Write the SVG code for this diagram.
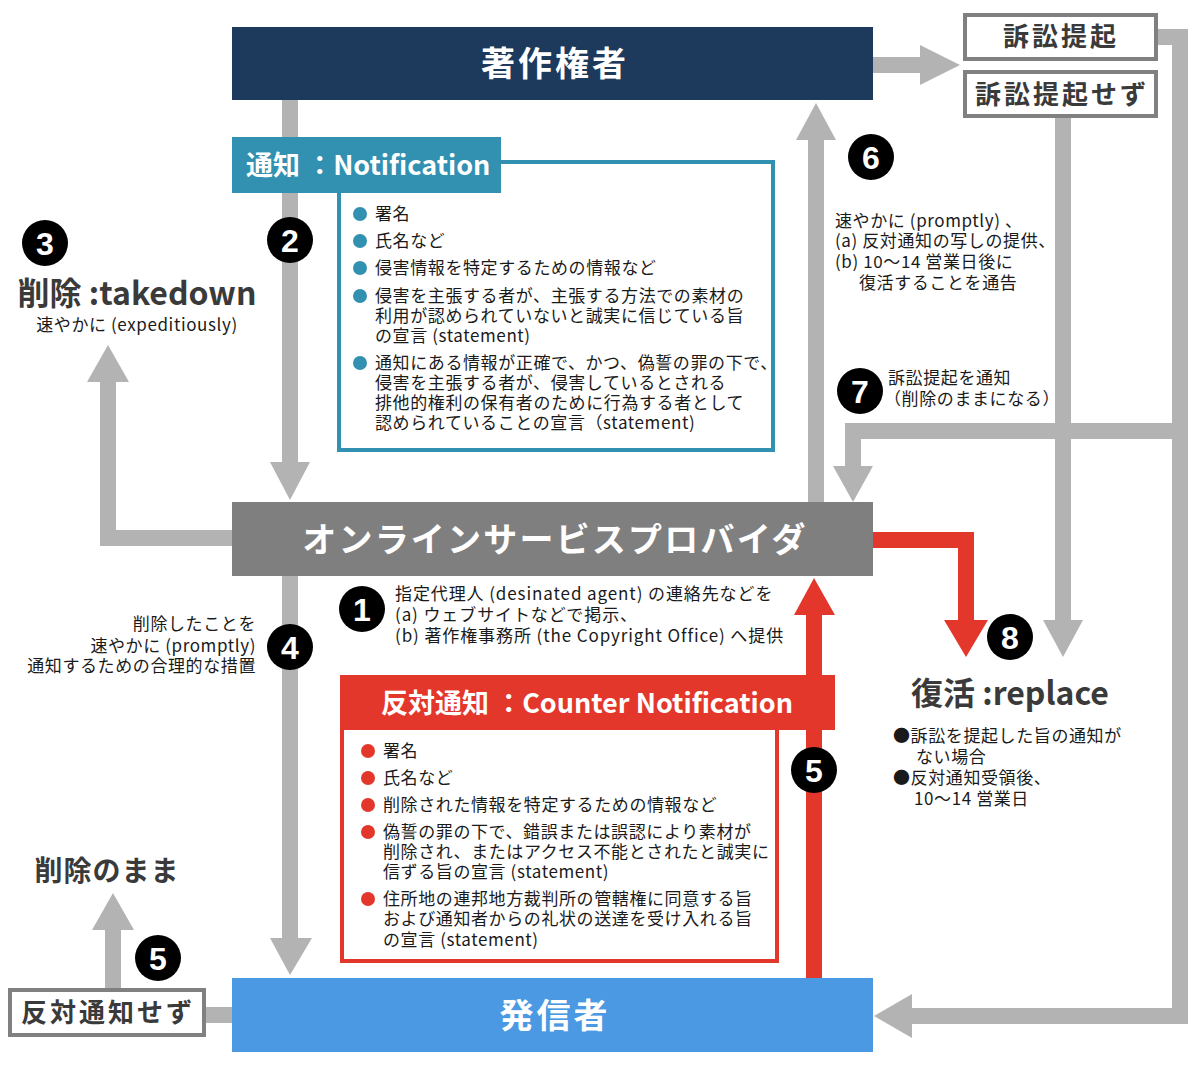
<svg xmlns="http://www.w3.org/2000/svg" width="1200" height="1067" viewBox="0 0 1200 1067">
<style>
text{font-family:"Noto Sans CJK JP","Noto Sans",sans-serif;}
.body{font-size:17px;fill:#1a1a1a;letter-spacing:0.6px;}
.head{font-weight:bold;fill:#fff;font-size:34px;letter-spacing:3px;text-anchor:middle;}
.lbl{font-weight:bold;fill:#3a3a3a;text-anchor:middle;}
.ga{fill:none;stroke:#b3b3b3;stroke-width:16;stroke-linejoin:miter;}
.gh{fill:#b3b3b3;}
.ra{fill:none;stroke:#e4372b;stroke-width:16;stroke-linejoin:miter;}
.rh{fill:#e4372b;}
.num{font-family:"Liberation Sans",sans-serif;font-weight:bold;font-size:32px;fill:#fff;text-anchor:middle;}
.gbox{fill:#fff;stroke:#808080;stroke-width:4;}
</style>
<rect width="1200" height="1067" fill="#fff"/>
<g id="connectors">
  <polyline class="ga" points="873,65 922,65"/>
  <polygon class="gh" points="920,45 960,65 920,85"/>
  <polyline class="ga" points="1157,37 1180,37 1180,1016 910,1016"/>
  <polygon class="gh" points="912,994 874,1016 912,1038"/>
  <polyline class="ga" points="1063,117 1063,622"/>
  <polygon class="gh" points="1043,620 1083,620 1063,657"/>
  <polyline class="ga" points="1180,431 853,431 853,468"/>
  <polygon class="gh" points="833,466 873,466 853,502"/>
  <polyline class="ga" points="816,502 816,138"/>
  <polygon class="gh" points="796,140 836,140 816,103"/>
  <polyline class="ga" points="290,100 290,464"/>
  <polygon class="gh" points="270,462 310,462 290,500"/>
  <polyline class="ga" points="232,538 108,538 108,380"/>
  <polygon class="gh" points="87,382 129,382 108,345"/>
  <polyline class="ga" points="290,576 290,940"/>
  <polygon class="gh" points="270,938 312,938 290,975"/>
  <polyline class="ga" points="113,990 113,928"/>
  <polygon class="gh" points="92,930 134,930 113,893"/>
  <polyline class="ga" points="204,1015 232,1015"/>
  <polyline class="ra" points="814,978 814,613"/>
  <polygon class="rh" points="794,615 835,615 814,578"/>
  <polyline class="ra" points="873,540 966,540 966,622"/>
  <polygon class="rh" points="944,620 988,620 966,657"/>
</g>
<g id="copyright-holder">
  <rect x="232" y="27" width="641" height="73" fill="#1d3a5c"/>
  <text class="head" x="555" y="76">著作権者</text>
</g>
<g id="osp">
  <rect x="232" y="502" width="641" height="74" fill="#7f7f7f"/>
  <text class="head" x="555" y="552" style="letter-spacing:2.2px">オンラインサービスプロバイダ</text>
</g>
<g id="sender">
  <rect x="232" y="978" width="641" height="74" fill="#4b99e2"/>
  <text class="head" x="555" y="1028">発信者</text>
</g>
<g id="lawsuit">
  <rect class="gbox" x="965" y="15" width="191" height="44"/>
  <text class="lbl" x="1061" y="46" style="font-size:26px;letter-spacing:3px">訴訟提起</text>
</g>
<g id="no-lawsuit">
  <rect class="gbox" x="965" y="72" width="191" height="44"/>
  <text class="lbl" x="1062" y="104" style="font-size:26px;letter-spacing:3px">訴訟提起せず</text>
</g>
<g id="no-counter">
  <rect class="gbox" x="10" y="990" width="194" height="45"/>
  <text class="lbl" x="108" y="1022" style="font-size:26px;letter-spacing:3px">反対通知せず</text>
</g>
<g id="notification">
  <rect x="339" y="162" width="434" height="288" fill="#fff" stroke="#3290b0" stroke-width="4"/>
  <rect x="232" y="137" width="269" height="56" fill="#3290b0"/>
  <text x="246" y="175" style="font-size:27px;font-weight:bold;fill:#fff">通知 ：Notification</text>
  <g fill="#3290b0">
    <circle cx="360" cy="214" r="7"/><circle cx="360" cy="241" r="7"/><circle cx="360" cy="268" r="7"/>
    <circle cx="360" cy="296" r="7"/><circle cx="360" cy="363" r="7"/>
  </g>
  <text class="body" x="375" y="220">署名</text>
  <text class="body" x="375" y="247">氏名など</text>
  <text class="body" x="375" y="274">侵害情報を特定するための情報など</text>
  <text class="body" x="375" y="302">侵害を主張する者が、主張する方法での素材の</text>
  <text class="body" x="375" y="322">利用が認められていないと誠実に信じている旨</text>
  <text class="body" x="375" y="342">の宣言 (statement)</text>
  <text class="body" x="375" y="369">通知にある情報が正確で、かつ、偽誓の罪の下で、</text>
  <text class="body" x="375" y="389">侵害を主張する者が、侵害しているとされる</text>
  <text class="body" x="375" y="409">排他的権利の保有者のために行為する者として</text>
  <text class="body" x="375" y="429">認められていることの宣言（statement)</text>
</g>
<g id="counter-notification">
  <rect x="342" y="722" width="435" height="239" fill="#fff" stroke="#e4372b" stroke-width="4"/>
  <rect x="340" y="675" width="495" height="55" fill="#e4372b"/>
  <text x="381" y="713" style="font-size:27px;font-weight:bold;fill:#fff">反対通知 ：Counter Notification</text>
  <g fill="#e4372b">
    <circle cx="368" cy="751" r="7"/><circle cx="368" cy="778" r="7"/><circle cx="368" cy="805" r="7"/>
    <circle cx="368" cy="832" r="7"/><circle cx="368" cy="899" r="7"/>
  </g>
  <text class="body" x="383" y="757">署名</text>
  <text class="body" x="383" y="784">氏名など</text>
  <text class="body" x="383" y="811">削除された情報を特定するための情報など</text>
  <text class="body" x="383" y="838">偽誓の罪の下で、錯誤または誤認により素材が</text>
  <text class="body" x="383" y="858">削除され、またはアクセス不能とされたと誠実に</text>
  <text class="body" x="383" y="878">信ずる旨の宣言 (statement)</text>
  <text class="body" x="383" y="905">住所地の連邦地方裁判所の管轄権に同意する旨</text>
  <text class="body" x="383" y="925">および通知者からの礼状の送達を受け入れる旨</text>
  <text class="body" x="383" y="946">の宣言 (statement)</text>
</g>
<g id="takedown">
  <text class="lbl" x="137" y="305" style="font-size:32px">削除 :takedown</text>
  <text class="body" x="137" y="331" text-anchor="middle">速やかに (expeditiously)</text>
</g>
<g id="remain-deleted">
  <text class="lbl" x="107" y="881" style="font-size:28px;letter-spacing:1px">削除のまま</text>
</g>
<g id="replace">
  <text class="lbl" x="1010" y="705" style="font-size:32px">復活 :replace</text>
  <text class="body" x="893" y="742">●訴訟を提起した旨の通知が</text>
  <text class="body" x="916" y="763">ない場合</text>
  <text class="body" x="893" y="784">●反対通知受領後、</text>
  <text class="body" x="914" y="805">10～14 営業日</text>
</g>
<g id="step1-text">
  <text class="body" x="395" y="600" style="letter-spacing:0.9px">指定代理人 (desinated agent) の連絡先などを</text>
  <text class="body" x="395" y="621" style="letter-spacing:0.9px">(a) ウェブサイトなどで掲示、</text>
  <text class="body" x="395" y="642" style="letter-spacing:0.9px">(b) 著作権事務所 (the Copyright Office) へ提供</text>
</g>
<g id="step4-text">
  <text class="body" x="256" y="630" text-anchor="end">削除したことを</text>
  <text class="body" x="256" y="652" text-anchor="end">速やかに (promptly)</text>
  <text class="body" x="256" y="672" text-anchor="end">通知するための合理的な措置</text>
</g>
<g id="step6-text">
  <text class="body" x="835" y="227">速やかに (promptly) 、</text>
  <text class="body" x="835" y="247">(a) 反対通知の写しの提供、</text>
  <text class="body" x="835" y="268">(b) 10～14 営業日後に</text>
  <text class="body" x="859" y="289">復活することを通告</text>
</g>
<g id="step7-text">
  <text class="body" x="888" y="384">訴訟提起を通知</text>
  <text class="body" x="884" y="405">（削除のままになる）</text>
</g>
<g id="badges">
  <circle cx="362" cy="609" r="23"/><text class="num" x="362" y="621">1</text>
  <circle cx="290" cy="240" r="23"/><text class="num" x="290" y="252">2</text>
  <circle cx="45" cy="243" r="23"/><text class="num" x="45" y="255">3</text>
  <circle cx="290" cy="647" r="23"/><text class="num" x="290" y="659">4</text>
  <circle cx="158" cy="958" r="23"/><text class="num" x="158" y="970">5</text>
  <circle cx="814" cy="770" r="23"/><text class="num" x="814" y="782">5</text>
  <circle cx="871" cy="157" r="23"/><text class="num" x="871" y="169">6</text>
  <circle cx="860" cy="391" r="23"/><text class="num" x="860" y="403">7</text>
  <circle cx="1010" cy="637" r="23"/><text class="num" x="1010" y="649">8</text>
</g>
</svg>
